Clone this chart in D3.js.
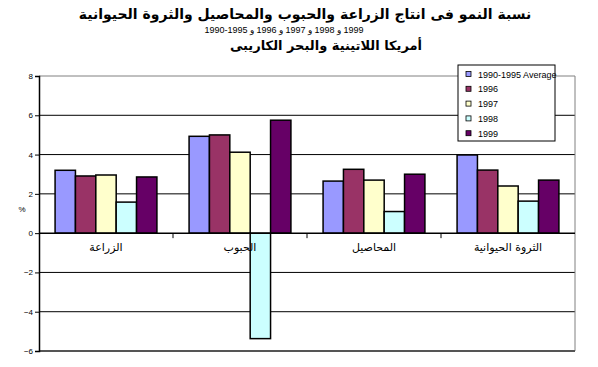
<!DOCTYPE html>
<html>
<head>
<meta charset="utf-8">
<style>
  body { margin: 0; background: #fff; }
  svg { display: block; }
  text { font-family: "Liberation Sans", Arial, sans-serif; }
  .ar { font-family: "DejaVu Sans", sans-serif; }
</style>
</head>
<body>
<svg width="598" height="367"></svg>
<script src="https://cdnjs.cloudflare.com/ajax/libs/d3/7.8.5/d3.min.js"></script>
<script>
// data
let categories = ["الزراعة", "الحبوب", "المحاصيل", "الثروة الحيوانية"];
let seriesNames = ["1990-1995 Average", "1996", "1997", "1998", "1999"];
let avg9095 = [3.2, 4.93, 2.65, 3.98];
let y1996 = [2.91, 5.0, 3.25, 3.21];
let y1997 = [2.96, 4.12, 2.70, 2.40];
let y1998 = [1.58, -5.37, 1.10, 1.63];
let y1999 = [2.86, 5.75, 3.00, 2.70];
let yTicks = [8, 6, 4, 2, 0, -2, -4, -6];
let colors = ["#9999ff", "#993366", "#ffffcc", "#ccffff", "#660066"];
let subtitleParts = ["1990-1995", "و", "1996", "و", "1997", "و", "1998", "و", "1999"];

let values = [avg9095, y1996, y1997, y1998, y1999];

let plotLeft = 39, plotRight = 575, plotTop = 76, plotBottom = 351;

let svg = d3.select("svg");

let y = d3.scaleLinear().domain([-6, 8]).range([plotBottom, plotTop]);
let x0 = d3.scaleBand().domain(categories).range([plotLeft, plotRight]).padding(0);
let bw = x0.bandwidth();
let x1 = d3.scaleBand().domain(seriesNames).range([bw * 0.12, bw * 0.88]);

// gridlines
svg.append("g").selectAll("line")
  .data(yTicks.filter(t => t != 0 && t != 8 && t != -6))
  .join("line")
  .attr("x1", plotLeft).attr("x2", plotRight)
  .attr("y1", d => y(d)).attr("y2", d => y(d))
  .attr("stroke", "#000").attr("stroke-width", 1);

// plot border (top, right gray; bottom dark)
svg.append("line").attr("x1", plotLeft).attr("x2", plotRight).attr("y1", y(8)).attr("y2", y(8))
  .attr("stroke", "#808080").attr("stroke-width", 1);
svg.append("line").attr("x1", plotRight).attr("x2", plotRight).attr("y1", y(8)).attr("y2", y(-6))
  .attr("stroke", "#808080").attr("stroke-width", 1);
svg.append("line").attr("x1", plotLeft).attr("x2", plotRight).attr("y1", y(-6)).attr("y2", y(-6))
  .attr("stroke", "#555").attr("stroke-width", 2);

// bars
let groups = svg.append("g").selectAll("g")
  .data(categories)
  .join("g")
  .attr("transform", d => "translate(" + x0(d) + ",0)");

groups.selectAll("rect")
  .data((c, i) => seriesNames.map((s, j) => ({s: s, v: values[j][i], c: colors[j]})))
  .join("rect")
  .attr("x", d => x1(d.s))
  .attr("width", x1.bandwidth())
  .attr("y", d => y(Math.max(0, d.v)))
  .attr("height", d => Math.abs(y(d.v) - y(0)))
  .attr("fill", d => d.c)
  .attr("stroke", "#000")
  .attr("stroke-width", 1.5);

// y axis
let yAxis = d3.axisLeft(y).tickValues(yTicks).tickSize(4).tickFormat(d3.format("d"));
let ya = svg.append("g").attr("transform", "translate(" + plotLeft + ",0)").call(yAxis);
ya.select(".domain").attr("stroke", "#000").attr("stroke-width", 1.5);
ya.selectAll("text").attr("font-size", 8).attr("font-family", "Liberation Sans").attr("dx", 1);
ya.selectAll("line").attr("stroke", "#000");

// x axis (zero line with category separators)
let zero = svg.append("g");
zero.append("line").attr("x1", plotLeft).attr("x2", plotRight).attr("y1", y(0)).attr("y2", y(0))
  .attr("stroke", "#000").attr("stroke-width", 1.5);
zero.selectAll(".sep")
  .data(categories.slice(1))
  .join("line")
  .attr("x1", d => x0(d)).attr("x2", d => x0(d))
  .attr("y1", y(0)).attr("y2", y(0) + 5)
  .attr("stroke", "#000");

zero.selectAll(".cat")
  .data(categories)
  .join("text")
  .attr("class", "ar")
  .attr("x", d => x0(d) + bw / 2)
  .attr("y", y(0) + 18)
  .attr("text-anchor", "middle")
  .attr("font-size", 11)
  .attr("direction", "rtl")
  .text(d => d);

// % label
svg.append("text").attr("x", 22).attr("y", 212).attr("font-size", 8)
  .attr("text-anchor", "middle").text("%");

// title
svg.append("text").attr("class", "ar").attr("x", 305).attr("y", 19)
  .attr("text-anchor", "middle").attr("font-size", 14).attr("font-weight", "bold")
  .attr("direction", "rtl")
  .text("نسبة النمو فى انتاج الزراعة والحبوب والمحاصيل والثروة الحيوانية");

// subtitle years: each piece placed left to right so bidi doesn't reorder them
let sub = svg.append("g");
let subTexts = sub.selectAll("text")
  .data(subtitleParts)
  .join("text")
  .attr("y", 33)
  .attr("font-size", 9)
  .text(d => d);
let widths = subTexts.nodes().map(n => n.getComputedTextLength());
let gap = 2.5;
let total = d3.sum(widths) + gap * (widths.length - 1);
let cx = 284 - total / 2;
subTexts.attr("x", (d, i) => {
  let x = cx;
  cx += widths[i] + gap;
  return x;
});

svg.append("text").attr("class", "ar").attr("x", 326).attr("y", 50)
  .attr("text-anchor", "middle").attr("font-size", 13).attr("font-weight", "bold")
  .attr("direction", "rtl")
  .text("أمريكا اللاتينية والبحر الكاريبى");

// legend
let lg = svg.append("g").attr("transform", "translate(458,65)");
lg.append("rect").attr("width", 97).attr("height", 76)
  .attr("fill", "#fff").attr("stroke", "#000").attr("stroke-width", 1);
let items = lg.selectAll(".item")
  .data(seriesNames)
  .join("g")
  .attr("transform", (d, i) => "translate(8," + (9 + i * 14.8) + ")");
items.append("rect").attr("x", 0).attr("y", -2.5).attr("width", 5).attr("height", 5)
  .attr("fill", (d, i) => colors[i]).attr("stroke", "#000").attr("stroke-width", 0.8);
items.append("text").attr("x", 12).attr("y", 3.5).attr("font-size", 9).text(d => d);
</script>
</body>
</html>
